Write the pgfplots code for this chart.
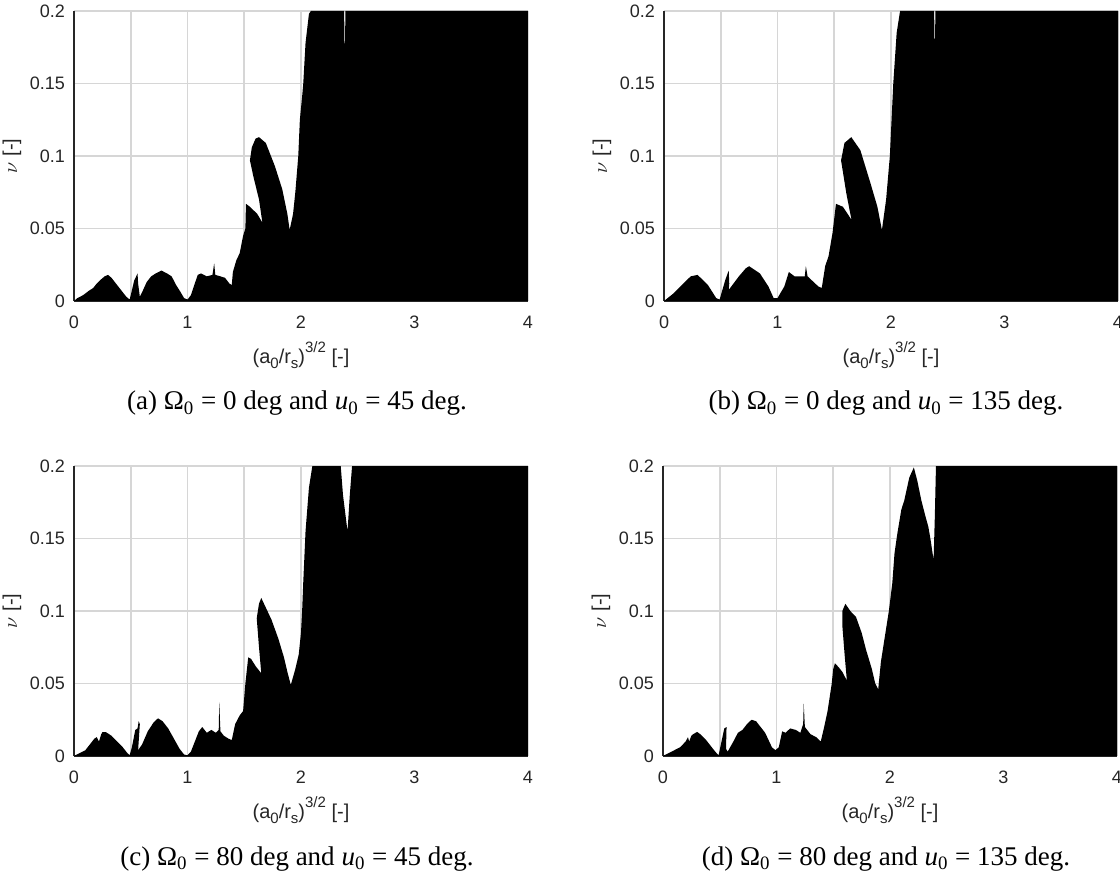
\documentclass[border=0pt]{standalone}
\usepackage{pgfplots}
\pgfplotsset{compat=1.18}
\usepackage{fontspec}
\setmainfont{Liberation Sans}
\newfontfamily\capfont{Liberation Serif}

% subscripts and superscripts for the axis label
\newcommand\lsub[1]{\raisebox{-0.45ex}{\fontsize{7.5}{8}\selectfont #1}}
\newcommand\lsup[1]{\raisebox{1.0ex}{\fontsize{7.5}{8}\selectfont #1}}

\pgfplotsset{
  panel/.style={
    scale only axis, width=227pt, height=145pt,
    xmin=0, xmax=4, ymin=0, ymax=0.2,
    axis x line*=bottom, axis y line*=left,
    axis line style={draw=black!85, line width=0.6pt, -},
    xtick={0,0.5,1,1.5,2,2.5,3,3.5,4},
    xticklabels={0,,1,,2,,3,,4},
    ytick={0,0.05,0.1,0.15,0.2},
    yticklabels={0,0.05,0.1,0.15,0.2},
    grid=major,
    major grid style={draw=black!16, line width=0.8pt},
    major tick length=0pt,
    tick label style={font=\fontsize{9}{10}\selectfont, text=black!85},
    xticklabel style={yshift=-3.8pt},
    yticklabel style={xshift=-1pt},
    label style={font=\fontsize{10}{11}\selectfont, text=black!85},
    xlabel={(a\lsub{0}/r\lsub{s})\lsup{3/2} [-]},
    ylabel={$\nu$ [-]},
    xlabel style={at={(axis description cs:0.5,0)}, anchor=center, yshift=-27pt},
    ylabel style={yshift=-2.5pt},
  },
  region/.style={fill=black, draw=none},
}
\tikzset{caption/.style={font=\capfont\fontsize{13.5}{15}\selectfont, anchor=base}}

\begin{document}
\begin{tikzpicture}
\useasboundingbox (0,0) rectangle (560pt,437pt);

% (a) Omega_0 = 0 deg, u_0 = 45 deg
\begin{axis}[panel, at={(37pt,286.5pt)}, anchor=south west]
\addplot[region] coordinates {
(0,0) (0.03,0.002) (0.08,0.004) (0.13,0.007) (0.17,0.009) (0.2,0.012)
(0.24,0.015) (0.27,0.017) (0.3,0.018) (0.33,0.016) (0.37,0.012) (0.42,0.007)
(0.46,0.003) (0.49,0.001) (0.5,0.004) (0.53,0.014) (0.56,0.019) (0.565,0.012)
(0.58,0.003) (0.6,0.006) (0.64,0.013) (0.68,0.017) (0.72,0.019) (0.77,0.021)
(0.82,0.019) (0.86,0.017) (0.9,0.011) (0.94,0.006) (0.97,0.002) (1.0,0.001)
(1.03,0.004) (1.06,0.011) (1.09,0.018) (1.12,0.019) (1.17,0.017) (1.22,0.018)
(1.235,0.026) (1.245,0.018) (1.29,0.017) (1.33,0.016) (1.37,0.012) (1.39,0.011)
(1.40,0.02) (1.43,0.028) (1.46,0.033) (1.49,0.045) (1.51,0.05) (1.515,0.067)
(1.55,0.065) (1.615,0.06) (1.66,0.054) (1.63,0.07) (1.58,0.086) (1.55,0.097)
(1.567,0.106) (1.6,0.112) (1.63,0.113) (1.69,0.109) (1.77,0.093) (1.835,0.077)
(1.88,0.06) (1.9,0.049) (1.93,0.06) (1.95,0.075) (1.976,0.1) (1.99,0.125)
(2.01,0.141) (2.02,0.15) (2.04,0.178) (2.07,0.198) (2.087,0.2) (2.38,0.2)
(2.385,0.166) (2.392,0.2) (4,0.2)
} \closedcycle;
\end{axis}
\node[caption] at (148.5pt,232pt) {(a) Ω\textsubscript{0} = 0 deg and \textit{u}\textsubscript{0} = 45 deg.};

% (b) Omega_0 = 0 deg, u_0 = 135 deg
\begin{axis}[panel, at={(332pt,286.5pt)}, anchor=south west]
\addplot[region] coordinates {
(0,0) (0.08,0.005) (0.17,0.012) (0.235,0.017) (0.296,0.018) (0.387,0.011)
(0.46,0.002) (0.49,0.001) (0.54,0.0145) (0.57,0.021) (0.575,0.012) (0.57,0.0076)
(0.66,0.017) (0.72,0.0225) (0.75,0.024) (0.845,0.019) (0.92,0.01) (0.966,0.002)
(1.0,0.002) (1.06,0.01) (1.1,0.02) (1.15,0.017) (1.24,0.017) (1.25,0.024)
(1.265,0.017) (1.36,0.01) (1.39,0.009) (1.42,0.024) (1.45,0.031) (1.485,0.047)
(1.515,0.067) (1.576,0.065) (1.652,0.056) (1.607,0.074) (1.56,0.097) (1.59,0.109)
(1.65,0.113) (1.73,0.104) (1.82,0.081) (1.88,0.065) (1.92,0.049) (1.957,0.07)
(1.99,0.1) (2.02,0.15) (2.05,0.185) (2.08,0.2) (2.38,0.2) (2.385,0.17)
(2.392,0.2) (4,0.2)
} \closedcycle;
\end{axis}
\node[caption] at (443pt,232pt) {(b) Ω\textsubscript{0} = 0 deg and \textit{u}\textsubscript{0} = 135 deg.};

% (c) Omega_0 = 80 deg, u_0 = 45 deg
\begin{axis}[panel, at={(37pt,59pt)}, anchor=south west]
\addplot[region] coordinates {
(0,0) (0.05,0.002) (0.1,0.004) (0.14,0.008) (0.18,0.012) (0.2,0.013)
(0.22,0.01) (0.24,0.015) (0.25,0.0165) (0.28,0.0165) (0.33,0.014) (0.38,0.01)
(0.43,0.006) (0.47,0.002) (0.49,0.0005) (0.51,0.006) (0.54,0.018) (0.56,0.019)
(0.57,0.024) (0.58,0.022) (0.565,0.004) (0.6,0.008) (0.65,0.017) (0.7,0.023)
(0.74,0.026) (0.78,0.024) (0.83,0.019) (0.88,0.012) (0.93,0.005) (0.97,0.001)
(1.0,0.0005) (1.03,0.003) (1.06,0.009) (1.1,0.017) (1.13,0.02) (1.17,0.016)
(1.21,0.018) (1.25,0.016) (1.275,0.018) (1.28,0.037) (1.29,0.017) (1.32,0.014)
(1.36,0.012) (1.39,0.011) (1.42,0.022) (1.46,0.028) (1.49,0.031) (1.51,0.05)
(1.535,0.068) (1.56,0.067) (1.6,0.062) (1.65,0.057) (1.63,0.075) (1.61,0.095)
(1.63,0.105) (1.65,0.109) (1.68,0.104) (1.74,0.094) (1.8,0.081) (1.85,0.068)
(1.88,0.058) (1.91,0.049) (1.95,0.06) (1.98,0.07) (2.0,0.085) (2.01,0.1)
(2.02,0.12) (2.04,0.155) (2.07,0.185) (2.1,0.2) (2.35,0.2) (2.37,0.18)
(2.41,0.155) (2.43,0.18) (2.45,0.2) (4,0.2)
} \closedcycle;
\end{axis}
\node[caption] at (148.5pt,4.5pt) {(c) Ω\textsubscript{0} = 80 deg and \textit{u}\textsubscript{0} = 45 deg.};

% (d) Omega_0 = 80 deg, u_0 = 135 deg
\begin{axis}[panel, at={(331.5pt,59pt)}, anchor=south west]
\addplot[region] coordinates {
(0,0) (0.05,0.002) (0.1,0.004) (0.15,0.006) (0.2,0.01) (0.22,0.013)
(0.23,0.01) (0.25,0.014) (0.265,0.015) (0.3,0.0166) (0.33,0.015) (0.38,0.011)
(0.43,0.006) (0.46,0.003) (0.49,0.0005) (0.51,0.008) (0.54,0.019) (0.56,0.02)
(0.555,0.005) (0.57,0.003) (0.62,0.01) (0.66,0.016) (0.7,0.018) (0.74,0.022)
(0.78,0.025) (0.82,0.024) (0.86,0.02) (0.9,0.016) (0.93,0.011) (0.96,0.006)
(0.99,0.004) (1.02,0.006) (1.05,0.017) (1.08,0.016) (1.12,0.019) (1.17,0.018)
(1.21,0.016) (1.235,0.022) (1.24,0.036) (1.25,0.02) (1.3,0.015) (1.35,0.013)
(1.39,0.01) (1.42,0.02) (1.45,0.031) (1.485,0.049) (1.5,0.06) (1.515,0.064)
(1.55,0.061) (1.58,0.058) (1.62,0.052) (1.6,0.07) (1.58,0.09) (1.58,0.1)
(1.607,0.105) (1.65,0.1) (1.7,0.096) (1.75,0.085) (1.79,0.073) (1.84,0.06)
(1.87,0.05) (1.896,0.046) (1.92,0.065) (1.94,0.075) (1.97,0.09) (1.99,0.1)
(2.02,0.119) (2.04,0.14) (2.064,0.153) (2.1,0.17) (2.125,0.176) (2.17,0.192)
(2.21,0.199) (2.24,0.19) (2.277,0.176) (2.31,0.166) (2.338,0.158) (2.36,0.148)
(2.384,0.135) (2.395,0.165) (2.405,0.2) (4,0.2)
} \closedcycle;
\end{axis}
\node[caption] at (443pt,4.5pt) {(d) Ω\textsubscript{0} = 80 deg and \textit{u}\textsubscript{0} = 135 deg.};
\end{tikzpicture}
\end{document}
